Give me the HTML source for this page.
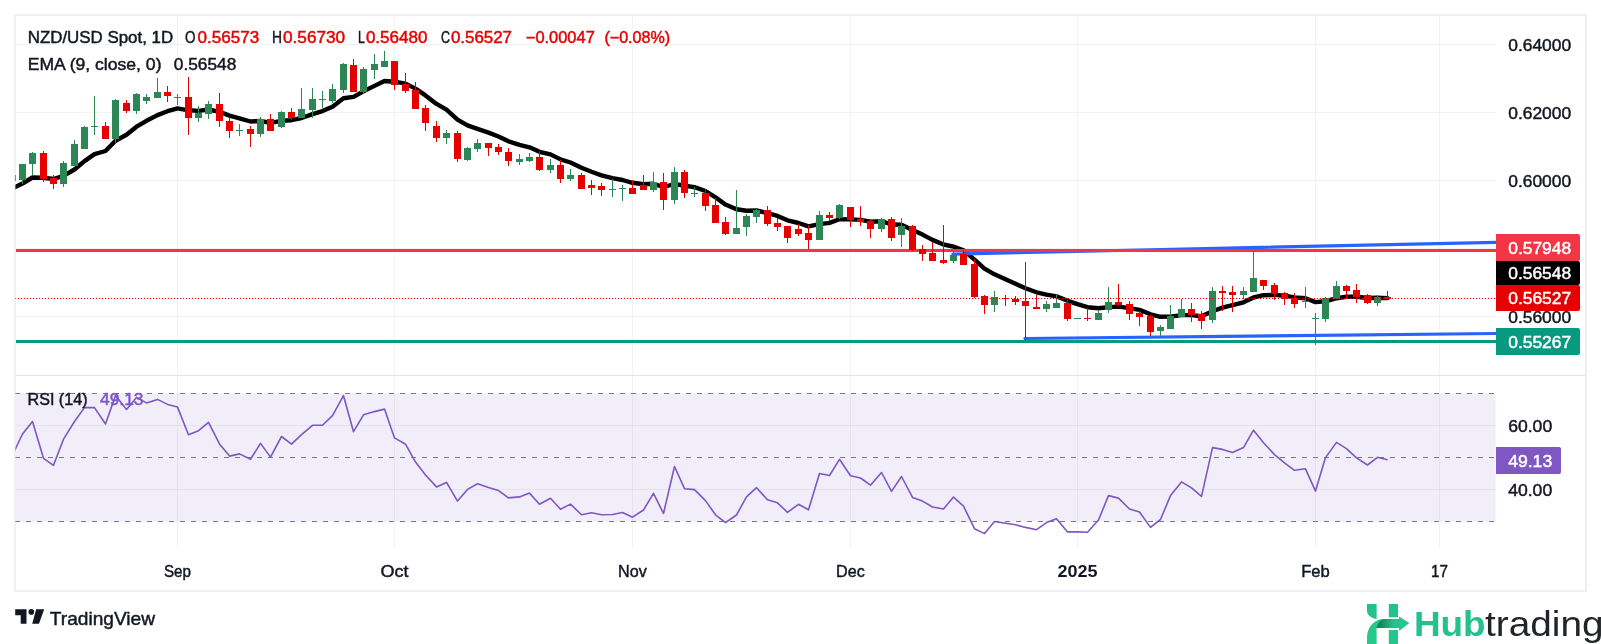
<!DOCTYPE html><html><head><meta charset="utf-8"><title>NZD/USD</title><style>
html,body{margin:0;padding:0;background:#fff;}body{width:1601px;height:644px;overflow:hidden;}svg{display:block;font-family:"Liberation Sans",sans-serif;will-change:transform;}
</style></head><body>
<svg width="1601" height="644" viewBox="0 0 1601 644">
<rect width="1601" height="644" fill="#fff"/>
<defs><clipPath id="cp"><rect x="15.4" y="16" width="1480.6" height="359"/></clipPath><clipPath id="cr"><rect x="15.4" y="376" width="1480.1" height="172"/></clipPath><linearGradient id="hg" x1="0" y1="0" x2="1" y2="0"><stop offset="0" stop-color="#0a7a4d"/><stop offset="0.75" stop-color="#24c28a"/></linearGradient></defs>
<rect x="15.4" y="393.5" width="1480.1" height="128" fill="#f2eef9"/>
<rect x="15.4" y="44" width="1480.6" height="1" fill="rgba(42,46,57,0.06)"/>
<rect x="15.4" y="112" width="1480.6" height="1" fill="rgba(42,46,57,0.06)"/>
<rect x="15.4" y="180" width="1480.6" height="1" fill="rgba(42,46,57,0.06)"/>
<rect x="15.4" y="248" width="1480.6" height="1" fill="rgba(42,46,57,0.06)"/>
<rect x="15.4" y="316" width="1480.6" height="1" fill="rgba(42,46,57,0.06)"/>
<rect x="15.4" y="425" width="1480.6" height="1" fill="rgba(42,46,57,0.06)"/>
<rect x="15.4" y="489" width="1480.6" height="1" fill="rgba(42,46,57,0.06)"/>
<rect x="177" y="16" width="1" height="359" fill="rgba(42,46,57,0.06)"/>
<rect x="177" y="376" width="1" height="172" fill="rgba(42,46,57,0.06)"/>
<rect x="394" y="16" width="1" height="359" fill="rgba(42,46,57,0.06)"/>
<rect x="394" y="376" width="1" height="172" fill="rgba(42,46,57,0.06)"/>
<rect x="632" y="16" width="1" height="359" fill="rgba(42,46,57,0.06)"/>
<rect x="632" y="376" width="1" height="172" fill="rgba(42,46,57,0.06)"/>
<rect x="850" y="16" width="1" height="359" fill="rgba(42,46,57,0.06)"/>
<rect x="850" y="376" width="1" height="172" fill="rgba(42,46,57,0.06)"/>
<rect x="1077" y="16" width="1" height="359" fill="rgba(42,46,57,0.06)"/>
<rect x="1077" y="376" width="1" height="172" fill="rgba(42,46,57,0.06)"/>
<rect x="1315" y="16" width="1" height="359" fill="rgba(42,46,57,0.06)"/>
<rect x="1315" y="376" width="1" height="172" fill="rgba(42,46,57,0.06)"/>
<rect x="1439" y="16" width="1" height="359" fill="rgba(42,46,57,0.06)"/>
<rect x="1439" y="376" width="1" height="172" fill="rgba(42,46,57,0.06)"/>
<rect x="16" y="375" width="1569" height="1" fill="#e0e3eb"/>
<rect x="14" y="14" width="1573" height="2" fill="#eef0f5"/>
<rect x="14" y="590" width="1573" height="2" fill="#eef0f5"/>
<rect x="14" y="14" width="2" height="578" fill="#eef0f5"/>
<rect x="1585" y="14" width="2" height="578" fill="#eef0f5"/>
<g clip-path="url(#cp)">
<polyline points="12.5,188.4 22.5,183.5 32.5,177.5 43.5,177.8 53.5,179.0 63.5,175.8 74.5,169.5 84.5,161.1 94.5,154.1 105.5,151.0 115.5,140.8 126.5,134.8 136.5,126.7 146.5,120.8 157.5,115.1 167.5,111.2 177.5,108.4 188.5,110.3 198.5,110.9 208.5,109.5 219.5,111.8 229.5,115.6 239.5,118.4 250.5,121.5 260.5,121.0 270.5,122.9 281.5,120.8 291.5,120.2 301.5,118.0 312.5,114.2 322.5,111.1 332.5,106.7 343.5,98.2 353.5,96.9 363.5,91.3 374.5,85.9 384.5,81.0 394.5,81.7 405.5,83.6 415.5,88.6 425.5,95.4 436.5,103.9 446.5,109.7 457.5,119.6 467.5,125.3 477.5,128.8 488.5,132.6 498.5,136.5 508.5,141.3 519.5,144.9 529.5,147.3 539.5,151.8 550.5,154.4 560.5,159.4 570.5,162.5 581.5,167.8 591.5,171.8 601.5,175.4 612.5,178.1 622.5,180.0 632.5,182.8 643.5,184.2 653.5,183.8 663.5,187.0 674.5,184.0 684.5,185.7 694.5,187.2 705.5,191.0 715.5,197.3 725.5,204.6 736.5,209.3 746.5,210.7 756.5,210.5 767.5,213.2 777.5,215.9 787.5,220.3 798.5,223.0 808.5,226.4 819.5,224.1 829.5,222.9 839.5,219.3 850.5,219.4 860.5,219.9 870.5,221.7 881.5,221.2 891.5,224.5 901.5,224.8 912.5,229.9 922.5,234.6 932.5,239.9 943.5,244.5 953.5,246.6 963.5,250.2 974.5,259.6 984.5,268.6 994.5,274.3 1005.5,279.3 1015.5,283.8 1025.5,288.2 1036.5,292.3 1046.5,294.7 1056.5,296.3 1067.5,300.8 1077.5,304.2 1087.5,307.2 1098.5,308.3 1108.5,307.1 1118.5,306.6 1129.5,308.1 1139.5,309.8 1150.5,314.3 1160.5,316.8 1170.5,316.6 1181.5,315.1 1191.5,315.1 1201.5,316.3 1212.5,311.3 1222.5,307.6 1232.5,305.1 1243.5,302.3 1253.5,297.5 1263.5,295.2 1274.5,294.9 1284.5,295.7 1294.5,297.4 1305.5,298.2 1315.5,302.1 1325.5,301.3 1336.5,298.2 1346.5,296.8 1356.5,296.8 1367.5,298.0 1377.5,297.8 1387.5,298.1" fill="none" stroke="#000" stroke-width="4.4" stroke-linejoin="round" stroke-linecap="round"/>
<line x1="952.9" y1="254.1" x2="1497" y2="242.3" stroke="#2962ff" stroke-width="3.2" stroke-linecap="round"/>
<line x1="1024.9" y1="338.5" x2="1497" y2="333.5" stroke="#2962ff" stroke-width="3.2" stroke-linecap="round"/>
<rect x="16" y="249" width="1480" height="3" fill="#f23645"/>
<rect x="16" y="340" width="1480" height="3" fill="#089981"/>
<rect x="12" y="173" width="1" height="9" fill="#e60000"/>
<rect x="9" y="175" width="7" height="6" fill="#e60000"/>
<rect x="22" y="164" width="1" height="20" fill="#2d8655"/>
<rect x="19" y="164" width="7" height="16" fill="#2d8655"/>
<rect x="32" y="152" width="1" height="23" fill="#2d8655"/>
<rect x="29" y="153" width="7" height="11" fill="#2d8655"/>
<rect x="43" y="151" width="1" height="31" fill="#e60000"/>
<rect x="40" y="153" width="7" height="26" fill="#e60000"/>
<rect x="53" y="175" width="1" height="14" fill="#e60000"/>
<rect x="50" y="178" width="7" height="6" fill="#e60000"/>
<rect x="63" y="161" width="1" height="26" fill="#2d8655"/>
<rect x="60" y="163" width="7" height="21" fill="#2d8655"/>
<rect x="74" y="140" width="1" height="26" fill="#2d8655"/>
<rect x="71" y="144" width="7" height="22" fill="#2d8655"/>
<rect x="84" y="126" width="1" height="23" fill="#2d8655"/>
<rect x="81" y="127" width="7" height="22" fill="#2d8655"/>
<rect x="94" y="96" width="1" height="39" fill="#2d8655"/>
<rect x="91" y="126" width="7" height="1" fill="#2d8655"/>
<rect x="105" y="122" width="1" height="17" fill="#e60000"/>
<rect x="102" y="126" width="7" height="13" fill="#e60000"/>
<rect x="115" y="99" width="1" height="44" fill="#2d8655"/>
<rect x="112" y="100" width="7" height="39" fill="#2d8655"/>
<rect x="126" y="100" width="1" height="13" fill="#e60000"/>
<rect x="123" y="103" width="7" height="8" fill="#e60000"/>
<rect x="136" y="93" width="1" height="21" fill="#2d8655"/>
<rect x="133" y="94" width="7" height="17" fill="#2d8655"/>
<rect x="146" y="94" width="1" height="10" fill="#2d8655"/>
<rect x="143" y="97" width="7" height="4" fill="#2d8655"/>
<rect x="157" y="78" width="1" height="20" fill="#2d8655"/>
<rect x="154" y="92" width="7" height="6" fill="#2d8655"/>
<rect x="167" y="86" width="1" height="16" fill="#e60000"/>
<rect x="164" y="92" width="7" height="4" fill="#e60000"/>
<rect x="177" y="94" width="1" height="11" fill="#2d8655"/>
<rect x="174" y="97" width="7" height="1" fill="#2d8655"/>
<rect x="188" y="77" width="1" height="58" fill="#e60000"/>
<rect x="185" y="97" width="7" height="21" fill="#e60000"/>
<rect x="198" y="106" width="1" height="16" fill="#2d8655"/>
<rect x="195" y="113" width="7" height="5" fill="#2d8655"/>
<rect x="208" y="101" width="1" height="18" fill="#2d8655"/>
<rect x="205" y="104" width="7" height="10" fill="#2d8655"/>
<rect x="219" y="93" width="1" height="34" fill="#e60000"/>
<rect x="216" y="104" width="7" height="17" fill="#e60000"/>
<rect x="229" y="117" width="1" height="21" fill="#e60000"/>
<rect x="226" y="121" width="7" height="10" fill="#e60000"/>
<rect x="239" y="124" width="1" height="12" fill="#2d8655"/>
<rect x="236" y="130" width="7" height="1" fill="#2d8655"/>
<rect x="250" y="126" width="1" height="21" fill="#e60000"/>
<rect x="247" y="129" width="7" height="5" fill="#e60000"/>
<rect x="260" y="117" width="1" height="20" fill="#2d8655"/>
<rect x="257" y="119" width="7" height="15" fill="#2d8655"/>
<rect x="270" y="114" width="1" height="17" fill="#e60000"/>
<rect x="267" y="119" width="7" height="12" fill="#e60000"/>
<rect x="281" y="111" width="1" height="17" fill="#2d8655"/>
<rect x="278" y="112" width="7" height="15" fill="#2d8655"/>
<rect x="291" y="108" width="1" height="12" fill="#e60000"/>
<rect x="288" y="112" width="7" height="6" fill="#e60000"/>
<rect x="301" y="88" width="1" height="30" fill="#2d8655"/>
<rect x="298" y="109" width="7" height="9" fill="#2d8655"/>
<rect x="312" y="88" width="1" height="30" fill="#2d8655"/>
<rect x="309" y="99" width="7" height="11" fill="#2d8655"/>
<rect x="322" y="91" width="1" height="17" fill="#2d8655"/>
<rect x="319" y="99" width="7" height="1" fill="#2d8655"/>
<rect x="332" y="84" width="1" height="19" fill="#2d8655"/>
<rect x="329" y="89" width="7" height="12" fill="#2d8655"/>
<rect x="343" y="63" width="1" height="30" fill="#2d8655"/>
<rect x="340" y="64" width="7" height="26" fill="#2d8655"/>
<rect x="353" y="59" width="1" height="33" fill="#e60000"/>
<rect x="350" y="65" width="7" height="27" fill="#e60000"/>
<rect x="363" y="67" width="1" height="27" fill="#2d8655"/>
<rect x="360" y="69" width="7" height="23" fill="#2d8655"/>
<rect x="374" y="54" width="1" height="25" fill="#2d8655"/>
<rect x="371" y="64" width="7" height="6" fill="#2d8655"/>
<rect x="384" y="51" width="1" height="16" fill="#2d8655"/>
<rect x="381" y="61" width="7" height="6" fill="#2d8655"/>
<rect x="394" y="61" width="1" height="29" fill="#e60000"/>
<rect x="391" y="61" width="7" height="24" fill="#e60000"/>
<rect x="405" y="73" width="1" height="20" fill="#e60000"/>
<rect x="402" y="84" width="7" height="7" fill="#e60000"/>
<rect x="415" y="82" width="1" height="27" fill="#e60000"/>
<rect x="412" y="90" width="7" height="19" fill="#e60000"/>
<rect x="425" y="105" width="1" height="26" fill="#e60000"/>
<rect x="422" y="108" width="7" height="15" fill="#e60000"/>
<rect x="436" y="121" width="1" height="21" fill="#e60000"/>
<rect x="433" y="126" width="7" height="12" fill="#e60000"/>
<rect x="446" y="130" width="1" height="14" fill="#2d8655"/>
<rect x="443" y="133" width="7" height="5" fill="#2d8655"/>
<rect x="457" y="131" width="1" height="31" fill="#e60000"/>
<rect x="454" y="133" width="7" height="26" fill="#e60000"/>
<rect x="467" y="147" width="1" height="14" fill="#2d8655"/>
<rect x="464" y="148" width="7" height="12" fill="#2d8655"/>
<rect x="477" y="139" width="1" height="13" fill="#2d8655"/>
<rect x="474" y="143" width="7" height="6" fill="#2d8655"/>
<rect x="488" y="143" width="1" height="13" fill="#e60000"/>
<rect x="485" y="143" width="7" height="5" fill="#e60000"/>
<rect x="498" y="144" width="1" height="11" fill="#e60000"/>
<rect x="495" y="147" width="7" height="5" fill="#e60000"/>
<rect x="508" y="148" width="1" height="18" fill="#e60000"/>
<rect x="505" y="152" width="7" height="9" fill="#e60000"/>
<rect x="519" y="154" width="1" height="11" fill="#2d8655"/>
<rect x="516" y="159" width="7" height="3" fill="#2d8655"/>
<rect x="529" y="153" width="1" height="9" fill="#2d8655"/>
<rect x="526" y="157" width="7" height="4" fill="#2d8655"/>
<rect x="539" y="151" width="1" height="20" fill="#e60000"/>
<rect x="536" y="157" width="7" height="13" fill="#e60000"/>
<rect x="550" y="159" width="1" height="14" fill="#2d8655"/>
<rect x="547" y="165" width="7" height="5" fill="#2d8655"/>
<rect x="560" y="160" width="1" height="23" fill="#e60000"/>
<rect x="557" y="165" width="7" height="14" fill="#e60000"/>
<rect x="570" y="169" width="1" height="12" fill="#2d8655"/>
<rect x="567" y="175" width="7" height="4" fill="#2d8655"/>
<rect x="581" y="173" width="1" height="16" fill="#e60000"/>
<rect x="578" y="175" width="7" height="14" fill="#e60000"/>
<rect x="591" y="180" width="1" height="15" fill="#e60000"/>
<rect x="588" y="185" width="7" height="3" fill="#e60000"/>
<rect x="601" y="183" width="1" height="13" fill="#e60000"/>
<rect x="598" y="186" width="7" height="4" fill="#e60000"/>
<rect x="612" y="179" width="1" height="18" fill="#2d8655"/>
<rect x="609" y="189" width="7" height="1" fill="#2d8655"/>
<rect x="622" y="185" width="1" height="16" fill="#2d8655"/>
<rect x="619" y="188" width="7" height="1" fill="#2d8655"/>
<rect x="632" y="180" width="1" height="14" fill="#e60000"/>
<rect x="629" y="188" width="7" height="6" fill="#e60000"/>
<rect x="643" y="175" width="1" height="15" fill="#e60000"/>
<rect x="640" y="185" width="7" height="5" fill="#e60000"/>
<rect x="653" y="172" width="1" height="20" fill="#2d8655"/>
<rect x="650" y="182" width="7" height="8" fill="#2d8655"/>
<rect x="663" y="173" width="1" height="37" fill="#e60000"/>
<rect x="660" y="182" width="7" height="18" fill="#e60000"/>
<rect x="674" y="167" width="1" height="37" fill="#2d8655"/>
<rect x="671" y="172" width="7" height="28" fill="#2d8655"/>
<rect x="684" y="170" width="1" height="28" fill="#e60000"/>
<rect x="681" y="172" width="7" height="21" fill="#e60000"/>
<rect x="694" y="187" width="1" height="10" fill="#2d8655"/>
<rect x="691" y="193" width="7" height="1" fill="#2d8655"/>
<rect x="705" y="189" width="1" height="22" fill="#e60000"/>
<rect x="702" y="193" width="7" height="13" fill="#e60000"/>
<rect x="715" y="198" width="1" height="25" fill="#e60000"/>
<rect x="712" y="205" width="7" height="18" fill="#e60000"/>
<rect x="725" y="217" width="1" height="18" fill="#e60000"/>
<rect x="722" y="222" width="7" height="12" fill="#e60000"/>
<rect x="736" y="190" width="1" height="44" fill="#2d8655"/>
<rect x="733" y="228" width="7" height="6" fill="#2d8655"/>
<rect x="746" y="214" width="1" height="22" fill="#2d8655"/>
<rect x="743" y="216" width="7" height="11" fill="#2d8655"/>
<rect x="756" y="209" width="1" height="14" fill="#2d8655"/>
<rect x="753" y="210" width="7" height="7" fill="#2d8655"/>
<rect x="767" y="206" width="1" height="20" fill="#e60000"/>
<rect x="764" y="210" width="7" height="14" fill="#e60000"/>
<rect x="777" y="218" width="1" height="13" fill="#e60000"/>
<rect x="774" y="223" width="7" height="4" fill="#e60000"/>
<rect x="787" y="226" width="1" height="17" fill="#e60000"/>
<rect x="784" y="226" width="7" height="12" fill="#e60000"/>
<rect x="798" y="224" width="1" height="12" fill="#e60000"/>
<rect x="795" y="229" width="7" height="5" fill="#e60000"/>
<rect x="808" y="225" width="1" height="24" fill="#e60000"/>
<rect x="805" y="233" width="7" height="7" fill="#e60000"/>
<rect x="819" y="211" width="1" height="29" fill="#2d8655"/>
<rect x="816" y="215" width="7" height="25" fill="#2d8655"/>
<rect x="829" y="212" width="1" height="9" fill="#e60000"/>
<rect x="826" y="215" width="7" height="3" fill="#e60000"/>
<rect x="839" y="204" width="1" height="15" fill="#2d8655"/>
<rect x="836" y="205" width="7" height="13" fill="#2d8655"/>
<rect x="850" y="207" width="1" height="20" fill="#e60000"/>
<rect x="847" y="207" width="7" height="13" fill="#e60000"/>
<rect x="860" y="206" width="1" height="20" fill="#e60000"/>
<rect x="857" y="219" width="7" height="3" fill="#e60000"/>
<rect x="870" y="219" width="1" height="19" fill="#e60000"/>
<rect x="867" y="221" width="7" height="8" fill="#e60000"/>
<rect x="881" y="218" width="1" height="14" fill="#2d8655"/>
<rect x="878" y="219" width="7" height="10" fill="#2d8655"/>
<rect x="891" y="217" width="1" height="24" fill="#e60000"/>
<rect x="888" y="219" width="7" height="19" fill="#e60000"/>
<rect x="901" y="218" width="1" height="29" fill="#2d8655"/>
<rect x="898" y="226" width="7" height="9" fill="#2d8655"/>
<rect x="912" y="225" width="1" height="26" fill="#e60000"/>
<rect x="909" y="226" width="7" height="24" fill="#e60000"/>
<rect x="922" y="245" width="1" height="16" fill="#e60000"/>
<rect x="919" y="249" width="7" height="5" fill="#e60000"/>
<rect x="932" y="242" width="1" height="19" fill="#e60000"/>
<rect x="929" y="253" width="7" height="8" fill="#e60000"/>
<rect x="943" y="225" width="1" height="39" fill="#e60000"/>
<rect x="940" y="260" width="7" height="3" fill="#e60000"/>
<rect x="953" y="252" width="1" height="11" fill="#2d8655"/>
<rect x="950" y="255" width="7" height="6" fill="#2d8655"/>
<rect x="963" y="250" width="1" height="15" fill="#e60000"/>
<rect x="960" y="254" width="7" height="11" fill="#e60000"/>
<rect x="974" y="259" width="1" height="39" fill="#e60000"/>
<rect x="971" y="264" width="7" height="33" fill="#e60000"/>
<rect x="984" y="295" width="1" height="19" fill="#e60000"/>
<rect x="981" y="296" width="7" height="9" fill="#e60000"/>
<rect x="994" y="291" width="1" height="21" fill="#2d8655"/>
<rect x="991" y="297" width="7" height="8" fill="#2d8655"/>
<rect x="1005" y="295" width="1" height="11" fill="#e60000"/>
<rect x="1002" y="298" width="7" height="1" fill="#e60000"/>
<rect x="1015" y="296" width="1" height="9" fill="#e60000"/>
<rect x="1012" y="299" width="7" height="3" fill="#e60000"/>
<rect x="1025" y="262" width="1" height="79" fill="#e60000"/>
<rect x="1022" y="301" width="7" height="5" fill="#e60000"/>
<rect x="1036" y="295" width="1" height="14" fill="#e60000"/>
<rect x="1033" y="307" width="7" height="2" fill="#e60000"/>
<rect x="1046" y="301" width="1" height="11" fill="#2d8655"/>
<rect x="1043" y="304" width="7" height="5" fill="#2d8655"/>
<rect x="1056" y="294" width="1" height="14" fill="#2d8655"/>
<rect x="1053" y="303" width="7" height="5" fill="#2d8655"/>
<rect x="1067" y="300" width="1" height="21" fill="#e60000"/>
<rect x="1064" y="303" width="7" height="16" fill="#e60000"/>
<rect x="1077" y="318" width="1" height="1" fill="#2d8655"/>
<rect x="1074" y="318" width="7" height="1" fill="#2d8655"/>
<rect x="1087" y="308" width="1" height="13" fill="#e60000"/>
<rect x="1084" y="318" width="7" height="1" fill="#e60000"/>
<rect x="1098" y="311" width="1" height="9" fill="#2d8655"/>
<rect x="1095" y="313" width="7" height="7" fill="#2d8655"/>
<rect x="1108" y="287" width="1" height="26" fill="#2d8655"/>
<rect x="1105" y="302" width="7" height="8" fill="#2d8655"/>
<rect x="1118" y="284" width="1" height="22" fill="#e60000"/>
<rect x="1115" y="302" width="7" height="3" fill="#e60000"/>
<rect x="1129" y="301" width="1" height="19" fill="#e60000"/>
<rect x="1126" y="304" width="7" height="10" fill="#e60000"/>
<rect x="1139" y="311" width="1" height="15" fill="#e60000"/>
<rect x="1136" y="313" width="7" height="4" fill="#e60000"/>
<rect x="1150" y="315" width="1" height="21" fill="#e60000"/>
<rect x="1147" y="316" width="7" height="16" fill="#e60000"/>
<rect x="1160" y="325" width="1" height="11" fill="#2d8655"/>
<rect x="1157" y="327" width="7" height="4" fill="#2d8655"/>
<rect x="1170" y="305" width="1" height="24" fill="#2d8655"/>
<rect x="1167" y="316" width="7" height="13" fill="#2d8655"/>
<rect x="1181" y="299" width="1" height="18" fill="#2d8655"/>
<rect x="1178" y="309" width="7" height="8" fill="#2d8655"/>
<rect x="1191" y="303" width="1" height="19" fill="#e60000"/>
<rect x="1188" y="309" width="7" height="6" fill="#e60000"/>
<rect x="1201" y="311" width="1" height="18" fill="#e60000"/>
<rect x="1198" y="314" width="7" height="7" fill="#e60000"/>
<rect x="1212" y="287" width="1" height="36" fill="#2d8655"/>
<rect x="1209" y="291" width="7" height="29" fill="#2d8655"/>
<rect x="1222" y="286" width="1" height="25" fill="#e60000"/>
<rect x="1219" y="291" width="7" height="2" fill="#e60000"/>
<rect x="1232" y="286" width="1" height="26" fill="#e60000"/>
<rect x="1229" y="292" width="7" height="3" fill="#e60000"/>
<rect x="1243" y="287" width="1" height="12" fill="#2d8655"/>
<rect x="1240" y="291" width="7" height="4" fill="#2d8655"/>
<rect x="1253" y="250" width="1" height="42" fill="#2d8655"/>
<rect x="1250" y="278" width="7" height="14" fill="#2d8655"/>
<rect x="1263" y="280" width="1" height="10" fill="#e60000"/>
<rect x="1260" y="280" width="7" height="6" fill="#e60000"/>
<rect x="1274" y="283" width="1" height="17" fill="#e60000"/>
<rect x="1271" y="285" width="7" height="9" fill="#e60000"/>
<rect x="1284" y="292" width="1" height="13" fill="#e60000"/>
<rect x="1281" y="293" width="7" height="6" fill="#e60000"/>
<rect x="1294" y="293" width="1" height="15" fill="#e60000"/>
<rect x="1291" y="298" width="7" height="6" fill="#e60000"/>
<rect x="1305" y="287" width="1" height="21" fill="#2d8655"/>
<rect x="1302" y="301" width="7" height="1" fill="#2d8655"/>
<rect x="1315" y="313" width="1" height="32" fill="#2d8655"/>
<rect x="1312" y="318" width="7" height="1" fill="#2d8655"/>
<rect x="1325" y="297" width="1" height="25" fill="#2d8655"/>
<rect x="1322" y="298" width="7" height="21" fill="#2d8655"/>
<rect x="1336" y="281" width="1" height="18" fill="#2d8655"/>
<rect x="1333" y="286" width="7" height="13" fill="#2d8655"/>
<rect x="1346" y="285" width="1" height="14" fill="#e60000"/>
<rect x="1343" y="286" width="7" height="5" fill="#e60000"/>
<rect x="1356" y="284" width="1" height="19" fill="#e60000"/>
<rect x="1353" y="290" width="7" height="7" fill="#e60000"/>
<rect x="1367" y="294" width="1" height="10" fill="#e60000"/>
<rect x="1364" y="295" width="7" height="8" fill="#e60000"/>
<rect x="1377" y="295" width="1" height="11" fill="#2d8655"/>
<rect x="1374" y="297" width="7" height="6" fill="#2d8655"/>
<rect x="1387" y="291" width="1" height="8" fill="#e60000"/>
<rect x="1384" y="297" width="7" height="2" fill="#e60000"/>
<line x1="15" y1="298.5" x2="1496" y2="298.5" stroke="#e60000" stroke-width="1" stroke-dasharray="1.2 1.8"/>
</g>
<g clip-path="url(#cr)">
<line x1="15" y1="393.5" x2="1495" y2="393.5" stroke="#787b86" stroke-width="1.1" stroke-dasharray="5 6"/>
<line x1="15" y1="457.5" x2="1495" y2="457.5" stroke="#787b86" stroke-width="1.1" stroke-dasharray="5 6"/>
<line x1="15" y1="521.5" x2="1495" y2="521.5" stroke="#787b86" stroke-width="1.1" stroke-dasharray="5 6"/>
<polyline points="12.5,455.0 22.5,434.0 32.5,421.5 43.5,458.3 53.5,465.3 63.5,439.2 74.5,421.5 84.5,407.6 94.5,407.6 105.5,424.0 115.5,395.4 126.5,409.4 136.5,397.4 146.5,402.9 157.5,399.4 167.5,404.4 177.5,407.1 188.5,434.7 198.5,430.7 208.5,422.3 219.5,443.9 229.5,456.1 239.5,453.9 250.5,459.3 260.5,443.4 270.5,457.1 281.5,436.5 291.5,444.2 301.5,434.7 312.5,425.3 322.5,425.3 332.5,415.6 343.5,395.7 353.5,431.7 363.5,414.8 374.5,411.6 384.5,409.1 394.5,437.9 405.5,444.2 415.5,462.1 425.5,475.0 436.5,486.9 446.5,482.4 457.5,501.1 467.5,489.4 477.5,483.7 488.5,487.4 498.5,490.6 508.5,497.9 519.5,496.9 529.5,493.1 539.5,504.3 550.5,498.3 560.5,509.3 570.5,504.1 581.5,514.8 591.5,512.8 601.5,514.8 612.5,514.5 622.5,512.5 632.5,517.2 643.5,510.0 653.5,493.4 663.5,513.5 674.5,466.5 684.5,488.7 694.5,489.6 705.5,500.6 715.5,514.8 725.5,522.7 736.5,515.0 746.5,496.9 756.5,487.7 767.5,499.8 777.5,502.8 787.5,512.3 798.5,504.3 808.5,509.8 819.5,473.5 829.5,475.5 839.5,459.3 850.5,475.7 860.5,478.0 870.5,485.2 881.5,472.5 891.5,491.4 901.5,476.5 912.5,497.4 922.5,501.1 932.5,507.0 943.5,509.0 953.5,497.1 963.5,506.1 974.5,528.7 984.5,533.6 994.5,521.5 1005.5,523.2 1015.5,524.7 1025.5,527.4 1036.5,529.7 1046.5,522.6 1056.5,518.7 1067.5,531.9 1077.5,531.9 1087.5,532.2 1098.5,520.0 1108.5,495.6 1118.5,498.1 1129.5,509.0 1139.5,512.0 1150.5,527.4 1160.5,519.5 1170.5,495.6 1181.5,481.9 1191.5,487.9 1201.5,496.4 1212.5,447.6 1222.5,449.4 1232.5,452.4 1243.5,447.6 1253.5,430.2 1263.5,442.7 1274.5,454.6 1284.5,462.8 1294.5,470.3 1305.5,468.8 1315.5,491.1 1325.5,457.6 1336.5,442.4 1346.5,448.6 1356.5,457.8 1367.5,465.0 1377.5,457.3 1387.5,459.8" fill="none" stroke="#7e57c2" stroke-width="1.6" stroke-linejoin="round"/>
</g>
<text x="1508.2" y="50.6" font-size="16.4" fill="#131722" stroke="#131722" stroke-width="0.45" text-anchor="start" font-weight="normal" textLength="63" lengthAdjust="spacingAndGlyphs">0.64000</text>
<text x="1508.2" y="118.6" font-size="16.4" fill="#131722" stroke="#131722" stroke-width="0.45" text-anchor="start" font-weight="normal" textLength="63" lengthAdjust="spacingAndGlyphs">0.62000</text>
<text x="1508.2" y="186.6" font-size="16.4" fill="#131722" stroke="#131722" stroke-width="0.45" text-anchor="start" font-weight="normal" textLength="63" lengthAdjust="spacingAndGlyphs">0.60000</text>
<text x="1508.2" y="322.6" font-size="16.4" fill="#131722" stroke="#131722" stroke-width="0.45" text-anchor="start" font-weight="normal" textLength="63" lengthAdjust="spacingAndGlyphs">0.56000</text>
<text x="1508.2" y="431.8" font-size="16.4" fill="#131722" stroke="#131722" stroke-width="0.45" text-anchor="start" font-weight="normal" textLength="44" lengthAdjust="spacingAndGlyphs">60.00</text>
<text x="1508.2" y="495.8" font-size="16.4" fill="#131722" stroke="#131722" stroke-width="0.45" text-anchor="start" font-weight="normal" textLength="44" lengthAdjust="spacingAndGlyphs">40.00</text>
<path d="M1496 234H1578a2 2 0 0 1 2 2V259a2 2 0 0 1 -2 2H1496Z" fill="#f23645"/>
<text x="1508.2" y="253.7" font-size="16.4" fill="#fff" stroke="#fff" stroke-width="0.45" text-anchor="start" font-weight="normal" textLength="63" lengthAdjust="spacingAndGlyphs">0.57948</text>
<path d="M1496 261H1578a2 2 0 0 1 2 2V283a2 2 0 0 1 -2 2H1496Z" fill="#000"/>
<text x="1508.2" y="279.2" font-size="16.4" fill="#fff" stroke="#fff" stroke-width="0.45" text-anchor="start" font-weight="normal" textLength="63" lengthAdjust="spacingAndGlyphs">0.56548</text>
<path d="M1496 285H1578a2 2 0 0 1 2 2V309a2 2 0 0 1 -2 2H1496Z" fill="#e60000"/>
<text x="1508.2" y="304.2" font-size="16.4" fill="#fff" stroke="#fff" stroke-width="0.45" text-anchor="start" font-weight="normal" textLength="63" lengthAdjust="spacingAndGlyphs">0.56527</text>
<path d="M1496 328H1578a2 2 0 0 1 2 2V353a2 2 0 0 1 -2 2H1496Z" fill="#089981"/>
<text x="1508.2" y="347.7" font-size="16.4" fill="#fff" stroke="#fff" stroke-width="0.45" text-anchor="start" font-weight="normal" textLength="63" lengthAdjust="spacingAndGlyphs">0.55267</text>
<path d="M1496 447H1559a2 2 0 0 1 2 2V472a2 2 0 0 1 -2 2H1496Z" fill="#7e57c2"/>
<text x="1508.2" y="466.7" font-size="16.4" fill="#fff" stroke="#fff" stroke-width="0.45" text-anchor="start" font-weight="normal" textLength="44" lengthAdjust="spacingAndGlyphs">49.13</text>
<text x="164.0" y="577" font-size="16.5" fill="#131722" stroke="#131722" stroke-width="0.45" text-anchor="start" font-weight="normal" textLength="27" lengthAdjust="spacingAndGlyphs">Sep</text>
<text x="380.5" y="577" font-size="16.5" fill="#131722" stroke="#131722" stroke-width="0.45" text-anchor="start" font-weight="normal" textLength="28" lengthAdjust="spacingAndGlyphs">Oct</text>
<text x="618.1" y="577" font-size="16.5" fill="#131722" stroke="#131722" stroke-width="0.45" text-anchor="start" font-weight="normal" textLength="28.7" lengthAdjust="spacingAndGlyphs">Nov</text>
<text x="836.1" y="577" font-size="16.5" fill="#131722" stroke="#131722" stroke-width="0.45" text-anchor="start" font-weight="normal" textLength="28.7" lengthAdjust="spacingAndGlyphs">Dec</text>
<text x="1057.5" y="577" font-size="16.5" fill="#131722" stroke="#131722" stroke-width="0.0" text-anchor="start" font-weight="bold" textLength="40" lengthAdjust="spacingAndGlyphs">2025</text>
<text x="1301.2" y="577" font-size="16.5" fill="#131722" stroke="#131722" stroke-width="0.45" text-anchor="start" font-weight="normal" textLength="28.6" lengthAdjust="spacingAndGlyphs">Feb</text>
<text x="1431.0" y="577" font-size="16.5" fill="#131722" stroke="#131722" stroke-width="0.45" text-anchor="start" font-weight="normal" textLength="17" lengthAdjust="spacingAndGlyphs">17</text>
<text x="27.7" y="43" font-size="16" fill="#131722" stroke="#131722" stroke-width="0.45" text-anchor="start" font-weight="normal" textLength="145.5" lengthAdjust="spacingAndGlyphs">NZD/USD Spot, 1D</text>
<text x="184.9" y="43" font-size="16" fill="#131722" stroke="#131722" stroke-width="0.45" text-anchor="start" font-weight="normal" textLength="10.5" lengthAdjust="spacingAndGlyphs">O</text>
<text x="197.6" y="43" font-size="16" fill="#e60000" stroke="#e60000" stroke-width="0.45" text-anchor="start" font-weight="normal" textLength="61.6" lengthAdjust="spacingAndGlyphs">0.56573</text>
<text x="272" y="43" font-size="16" fill="#131722" stroke="#131722" stroke-width="0.45" text-anchor="start" font-weight="normal" textLength="10" lengthAdjust="spacingAndGlyphs">H</text>
<text x="283" y="43" font-size="16" fill="#e60000" stroke="#e60000" stroke-width="0.45" text-anchor="start" font-weight="normal" textLength="62.2" lengthAdjust="spacingAndGlyphs">0.56730</text>
<text x="358" y="43" font-size="16" fill="#131722" stroke="#131722" stroke-width="0.45" text-anchor="start" font-weight="normal" textLength="6.8" lengthAdjust="spacingAndGlyphs">L</text>
<text x="365.9" y="43" font-size="16" fill="#e60000" stroke="#e60000" stroke-width="0.45" text-anchor="start" font-weight="normal" textLength="61.6" lengthAdjust="spacingAndGlyphs">0.56480</text>
<text x="440.9" y="43" font-size="16" fill="#131722" stroke="#131722" stroke-width="0.45" text-anchor="start" font-weight="normal" textLength="9" lengthAdjust="spacingAndGlyphs">C</text>
<text x="450.9" y="43" font-size="16" fill="#e60000" stroke="#e60000" stroke-width="0.45" text-anchor="start" font-weight="normal" textLength="61.1" lengthAdjust="spacingAndGlyphs">0.56527</text>
<text x="525.8" y="43" font-size="16" fill="#e60000" stroke="#e60000" stroke-width="0.45" text-anchor="start" font-weight="normal" textLength="69" lengthAdjust="spacingAndGlyphs">−0.00047</text>
<text x="604.4" y="43" font-size="16" fill="#e60000" stroke="#e60000" stroke-width="0.45" text-anchor="start" font-weight="normal" textLength="65.8" lengthAdjust="spacingAndGlyphs">(−0.08%)</text>
<text x="27.7" y="69.5" font-size="16" fill="#131722" stroke="#131722" stroke-width="0.45" text-anchor="start" font-weight="normal" textLength="133.8" lengthAdjust="spacingAndGlyphs">EMA (9, close, 0)</text>
<text x="173.8" y="69.5" font-size="16" fill="#131722" stroke="#131722" stroke-width="0.45" text-anchor="start" font-weight="normal" textLength="62.5" lengthAdjust="spacingAndGlyphs">0.56548</text>
<text x="27.5" y="404.5" font-size="16" fill="#131722" stroke="#131722" stroke-width="0.45" text-anchor="start" font-weight="normal" textLength="60" lengthAdjust="spacingAndGlyphs">RSI (14)</text>
<text x="100" y="404.5" font-size="16" fill="#7e57c2" stroke="#7e57c2" stroke-width="0.45" text-anchor="start" font-weight="normal" textLength="43.5" lengthAdjust="spacingAndGlyphs">49.13</text>
<g fill="#131722"><path d="M15.2 609.2h11.3v14.6h-5.8v-8.6h-5.5z"/><circle cx="31.3" cy="611.9" r="2.8"/><path d="M36.2 609.2h8l-5.2 14.6h-6.8z"/></g>
<text x="49.8" y="624.5" font-size="18.5" fill="#131722" stroke="#131722" stroke-width="0.45" text-anchor="start" font-weight="normal" textLength="105.2" lengthAdjust="spacingAndGlyphs">TradingView</text>
<g><path d="M1367 604h9.6v14.9c-5.3-0.3-9.6-3.8-9.6-8.4z" fill="#24c28a"/><rect x="1388.8" y="604" width="9.2" height="13.3" fill="#24c28a"/><rect x="1388.8" y="630" width="9.2" height="14" fill="#22c98a"/><path d="M1367 644v-6c0-11 7-19.1 17-19.1h15.1v-2.5l10.3 6.7-10.3 7.9v-3.1h-22.5v16.1z" fill="#22c98a"/><path d="M1376.6 627.9c1-5 4-9 8.4-9h14.1v9z" fill="url(#hg)"/></g>
<text x="1413.9" y="636.3" font-size="35" fill="#24c28a" stroke="#24c28a" stroke-width="0.0" text-anchor="start" font-weight="bold" textLength="71.8" lengthAdjust="spacingAndGlyphs">Hub</text>
<text x="1485" y="636.3" font-size="35" fill="#212529" stroke="#212529" stroke-width="0" text-anchor="start" font-weight="normal" textLength="118.5" lengthAdjust="spacingAndGlyphs">trading</text>
</svg></body></html>
